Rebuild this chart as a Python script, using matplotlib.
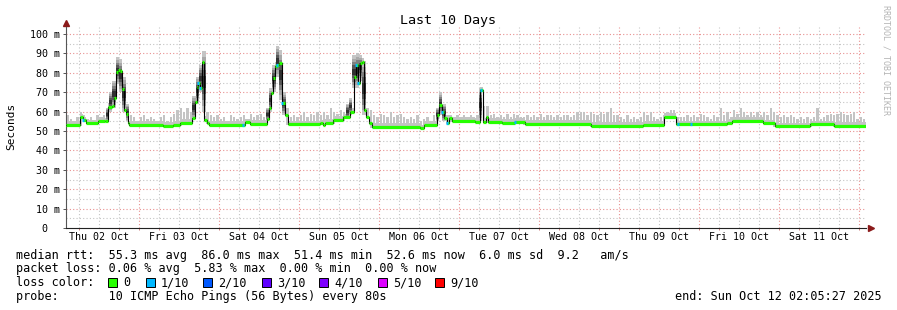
#!/usr/bin/env python3
"""Smokeping style 'Last 10 Days' latency graph."""

from __future__ import annotations

import matplotlib
import numpy as np
from matplotlib.patches import Rectangle

matplotlib.use("Agg")
import matplotlib.pyplot as plt  # noqa: E402

# hours since Thu 02 Oct 00:00, median rtt (ms) steps to that value at each hour
median_hours = (
    [2.1, 6.3, 7.2, 8.1, 11.7, 13.8, 14.7, 15.9, 16.5, 17.1, 17.7, 18.3, 18.9, 19.5, 20.1, 20.7, 21.0]
    + [31.2, 34.2, 36.3, 39.9, 40.8, 41.4, 41.7, 42.3, 42.9, 43.5, 44.4, 45.0]
    + [55.8, 57.3, 62.4, 63.0, 63.6, 64.2, 64.8, 65.4, 66.0, 66.9, 67.8, 68.7]
    + [78.3, 79.2, 79.8, 82.2, 85.2, 87.3, 88.5, 89.1, 89.7, 90.3, 90.9, 91.5, 92.1, 93.0, 93.9]
    + [108.3, 109.5, 113.4, 114.0, 114.9, 115.5, 116.4, 117.0, 117.9]
    + [124.8, 126.3, 127.2, 128.1, 128.7, 132.9, 136.8, 139.8]
    + [159.6, 175.2, 181.5, 185.1, 200.4, 201.9, 211.2, 214.8, 225.3, 232.5]
)
median_ms = (
    [53.1, 57.0, 55.5, 54.0, 55.2, 55.0, 62.5, 63.0, 66.8, 80.6, 81.4, 81.0, 71.5, 60.8, 58.8, 54.0, 53.1]
    + [52.8, 53.1, 54.3, 56.5, 65.0, 72.8, 74.6, 72.0, 85.7, 55.7, 54.0, 53.1]
    + [54.5, 53.8, 56.0, 62.0, 69.4, 77.2, 83.7, 84.0, 84.9, 64.3, 58.2, 53.4]
    + [53.9, 53.0, 54.3, 55.7, 57.0, 60.0, 78.0, 84.0, 74.7, 84.9, 85.7, 60.8, 57.4, 54.0, 52.3]
    + [51.4, 53.1, 58.2, 63.4, 60.0, 56.5, 54.0, 56.5, 55.3]
    + [54.8, 71.0, 54.8, 57.2, 54.8, 54.3, 54.8, 53.8]
    + [52.6, 53.3, 57.4, 53.5, 54.3, 55.2, 54.0, 52.4, 53.4, 52.6]
)
end_hour = 242.1

# samples with 1/10 loss
loss_hours = [7.2, 41.7, 42.3, 55.2, 65.4, 66.9, 89.1, 89.7, 114.9, 116.4, 126.6, 136.8, 185.7, 189.6]

# slowest ping per hour, hours 2 .. 241
smoke_start = 2
smoke_max = (
    [58, 56, 55, 57, 60, 58, 56, 57, 55, 58, 56, 58, 62, 70, 76, 88, 87, 78, 64, 58, 57, 55]
    + [57, 58, 56, 57, 56, 55, 57, 58, 55, 57, 59, 61, 62, 60, 62, 60, 68, 78, 84, 91, 60, 58, 57, 58]
    + [56, 57, 55, 58, 57, 56, 57, 58, 56, 59, 57, 58, 59, 57, 62, 72, 84, 94, 92, 70, 62, 57, 58, 57]
    + [58, 60, 57, 59, 58, 60, 58, 60, 58, 62, 60, 59, 61, 60, 64, 67, 89, 90, 89, 86, 62, 61, 58, 57]
    + [59, 58, 57, 60, 57, 58, 59, 57, 56, 57, 56, 58, 55, 56, 57, 55, 58, 62, 70, 64, 58, 58, 57, 58]
    + [57, 58, 57, 58, 57, 58, 72, 63, 63, 58, 59, 57, 58, 57, 59, 57, 59, 58, 57, 57, 58, 57, 58, 57]
    + [59, 57, 58, 58, 57, 58, 57, 58, 58, 57, 58, 60, 60, 60, 58, 60, 59, 58, 60, 59, 60, 62, 58, 58]
    + [57, 56, 58, 56, 57, 56, 57, 60, 58, 60, 57, 56, 57, 58, 60, 61, 61, 57, 57, 57, 58, 57, 58, 57]
    + [59, 58, 57, 56, 58, 57, 62, 58, 60, 57, 61, 59, 62, 60, 58, 60, 58, 60, 58, 60, 58, 62, 60, 58]
    + [57, 58, 57, 58, 57, 56, 57, 56, 57, 56, 57, 62, 56, 57, 58, 59, 58, 59, 60, 59, 58, 59, 60, 56, 57, 56]
)

# fastest ping during the evening peaks
peak_hours = [14, 15, 16, 17, 18, 19, 20, 40, 41, 42, 43, 62, 63, 64, 65, 66, 67,
              86, 87, 88, 89, 90, 91, 113, 114, 115, 126]
peak_min = [55, 60, 62, 74, 70, 60, 55, 56, 64, 70, 60, 55, 60, 70, 78, 66, 58,
            56, 58, 72, 72, 76, 58, 55, 58, 55, 55]

day_labels = ["Thu 02 Oct", "Fri 03 Oct", "Sat 04 Oct", "Sun 05 Oct", "Mon 06 Oct",
              "Tue 07 Oct", "Wed 08 Oct", "Thu 09 Oct", "Fri 10 Oct", "Sat 11 Oct"]
y_ticks = [0, 10, 20, 30, 40, 50, 60, 70, 80, 90, 100]
y_tick_labels = ["0  "] + [f"{v} m" for v in y_ticks[1:]]

loss_labels = ["0", "1/10", "2/10", "3/10", "4/10", "5/10", "9/10"]
loss_colors = ["#26ff00", "#00b8ff", "#0059ff", "#5e00ff", "#7e00ff", "#dd00ff", "#ff0000"]

legend_lines = [
    "median rtt:  55.3 ms avg  86.0 ms max  51.4 ms min  52.6 ms now  6.0 ms sd  9.2   am/s",
    "packet loss: 0.06 % avg  5.83 % max  0.00 % min  0.00 % now",
]
probe_line = "probe:       10 ICMP Echo Pings (56 Bytes) every 80s"
end_line = "end: Sun Oct 12 02:05:27 2025"

W, H = 897, 310
MONO = "DejaVu Sans Mono"
SMOKE = "#c4c4c4"
GRID = "#c4c4c4"
MGRID = "#e89090"


def _median_at(h):
    idx = np.searchsorted(median_hours, h, side="right") - 1
    return np.asarray(median_ms)[np.clip(idx, 0, None)]


def _fig_text(fig, x, y, s, **kw):
    kw.setdefault("fontsize", 8.5)
    kw.setdefault("family", MONO)
    kw.setdefault("va", "baseline")
    fig.text(x / W, 1 - y / H, s, **kw)


def _draw_smoke(ax):
    hours = smoke_start + np.arange(len(smoke_max))
    hi = np.asarray(smoke_max, dtype=float)
    lo = np.minimum(_median_at(hours + 0.01), _median_at(hours + 0.99)) - 0.5
    peaks = dict(zip(peak_hours, peak_min))
    mask = np.isin(hours, peak_hours)
    for i, h in enumerate(hours):
        if h in peaks:
            lo[i] = peaks[h]
    hi = np.maximum(hi, lo)

    # thin haze just above the median
    xs = np.asarray(median_hours + [end_hour])
    ys = np.asarray(median_ms + [median_ms[-1]])
    ax.fill_between(xs, ys - 0.5, ys + 1.8, step="post", color=SMOKE, lw=0, zorder=2)

    # single slow pings as spikes, peaks as full blocks
    ax.bar(hours[~mask] + 0.5, (hi - lo)[~mask], bottom=lo[~mask], width=0.7,
           color=SMOKE, linewidth=0, zorder=2)
    ax.bar(hours[mask], (hi - lo)[mask], bottom=lo[mask], width=1.0, align="edge",
           color=SMOKE, linewidth=0, zorder=2)

    # darker core inside the peaks
    mid = (hi + lo) / 2
    half = (hi - lo) / 2
    for frac, col in ((0.8, "#a8a8a8"), (0.6, "#808080"), (0.4, "#585858"), (0.2, "#303030")):
        ax.bar(hours[mask], 2 * half[mask] * frac, bottom=mid[mask] - half[mask] * frac,
               width=1.0, align="edge", color=col, linewidth=0, zorder=2)


def _draw_median(ax):
    xs = median_hours + [end_hour]
    ys = median_ms + [median_ms[-1]]
    ax.step(xs, ys, where="post", color="black", lw=0.8, zorder=3)
    ax.hlines(median_ms, median_hours, xs[1:], color=loss_colors[0], lw=2.3, zorder=4,
              capstyle="butt")
    lh = np.asarray(loss_hours)
    ax.hlines(_median_at(lh), lh - 0.3, lh + 0.3, color=loss_colors[1], lw=2.3, zorder=5)


def main() -> None:
    fig = plt.figure(figsize=(W / 100, H / 100), dpi=100)
    ax = fig.add_axes([66 / W, 1 - 228 / H, 800 / W, 201 / H])
    ax.set_xlim(2.1, end_hour)
    ax.set_ylim(0, 201 / 1.94)

    for y in range(5, 101, 5):
        ax.axhline(y, color=MGRID if y % 10 == 0 else GRID, lw=0.8, ls=(0, (1, 2)), zorder=0)
    for h in range(6, 242, 6):
        ax.axvline(h, color=MGRID if h % 24 == 0 else GRID, lw=0.8, ls=(0, (1, 2)), zorder=0)

    _draw_smoke(ax)
    _draw_median(ax)

    for side in ("top", "right"):
        ax.spines[side].set_visible(False)
    ax.spines["left"].set_color("#555555")
    ax.spines["bottom"].set_color("#222222")
    ax.spines["left"].set_linewidth(0.8)
    ax.spines["bottom"].set_linewidth(0.8)

    ax.set_yticks(y_ticks, labels=y_tick_labels)
    ax.set_xticks([12 + 24 * i for i in range(len(day_labels))], labels=day_labels)
    ax.set_xticks(range(6, 242, 6), minor=True)
    ax.tick_params(axis="y", length=2.5, width=0.7, color="#555555", pad=1.5, labelsize=7.2)
    ax.tick_params(axis="x", which="major", length=0, pad=3, labelsize=7.2)
    ax.tick_params(axis="x", which="minor", length=1.5, width=0.7, color="#d08080")
    for lab in ax.get_xticklabels() + ax.get_yticklabels():
        lab.set_family(MONO)

    # axis arrows
    ax.plot([0], [1 + 4 / 201], marker="^", ms=4, color="#8b1a1a", transform=ax.transAxes, clip_on=False)
    ax.plot([1 + 5 / 800], [0], marker=">", ms=4, color="#8b1a1a", transform=ax.transAxes, clip_on=False)

    _fig_text(fig, 448, 24, "Last 10 Days", fontsize=9.6, ha="center")
    _fig_text(fig, 11, 126, "Seconds", fontsize=8, rotation=90, ha="center", va="center")
    _fig_text(fig, 886, 5, "RRDTOOL / TOBI OETIKER", fontsize=6, rotation=270,
              ha="center", va="top", color="#b4b4b4")

    _fig_text(fig, 15.5, 258.5, legend_lines[0])
    _fig_text(fig, 15.5, 272.3, legend_lines[1])
    _fig_text(fig, 15.5, 286.2, "loss color:")
    box_x = [108, 145.7, 203.3, 261.7, 319, 377.7, 435]
    for bx, lab, col in zip(box_x, loss_labels, loss_colors):
        fig.add_artist(Rectangle((bx / W, 1 - 287 / H), 9 / W, 9 / H, transform=fig.transFigure,
                                 facecolor=col, edgecolor="black", lw=0.7))
        _fig_text(fig, bx + 15, 286.2, lab)
    _fig_text(fig, 15.5, 300, probe_line)
    _fig_text(fig, 675, 300, end_line)

    fig.savefig("out.png", dpi=100, facecolor="white")
    plt.close(fig)


if __name__ == "__main__":
    main()
